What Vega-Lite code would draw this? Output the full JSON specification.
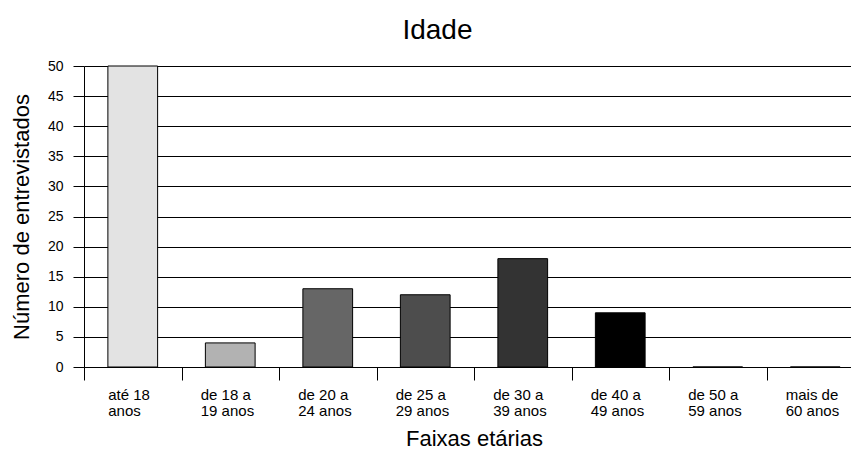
{
  "$schema": "https://vega.github.io/schema/vega-lite/v6.json",
  "width": 780,
  "height": 301,
  "padding": {"left": 10, "top": 17, "right": 0, "bottom": 5},
  "background": "white",
  "title": {"text": "Idade", "fontSize": 28, "font": "Liberation Sans", "fontWeight": "normal", "color": "black", "frame": "bounds", "anchor": "middle", "offset": 14},
  "data": {"values": [
    {"faixa": "até 18\nanos", "n": 50, "cor": "c1"},
    {"faixa": "de 18 a\n19 anos", "n": 4, "cor": "c2"},
    {"faixa": "de 20 a\n24 anos", "n": 13, "cor": "c3"},
    {"faixa": "de 25 a\n29 anos", "n": 12, "cor": "c4"},
    {"faixa": "de 30 a\n39 anos", "n": 18, "cor": "c5"},
    {"faixa": "de 40 a\n49 anos", "n": 9, "cor": "c6"},
    {"faixa": "de 50 a\n59 anos", "n": 0, "cor": "c7"},
    {"faixa": "mais de\n60 anos", "n": 0, "cor": "c8"}
  ]},
  "mark": {"type": "bar", "stroke": "black", "strokeWidth": 1, "width": {"band": 0.51}},
  "encoding": {
    "x": {
      "field": "faixa", "type": "nominal", "sort": null,
      "scale": {"paddingInner": 0, "paddingOuter": 0},
      "axis": {
        "title": "Faixas etárias", "labelAngle": 0, "tickBand": "extent",
        "tickSize": 13, "tickColor": "black", "domainColor": "black",
        "labelExpr": "split(datum.label, '\\n')",
        "labelAlign": "left", "labelBaseline": "top", "labelPadding": 7,
        "labelLineHeight": 16.5, "labelFontSize": 15, "labelFont": "Liberation Sans", "labelColor": "black",
        "labelOffset": {"condition": {"test": "datum.index === 0", "value": -25}, "value": -30},
        "titleFontSize": 22, "titleFont": "Liberation Sans", "titleFontWeight": "normal", "titleColor": "black", "titlePadding": 10,
        "grid": false
      }
    },
    "y": {
      "field": "n", "type": "quantitative",
      "scale": {"domain": [0, 50], "nice": false},
      "axis": {
        "title": "Número de entrevistados", "values": [0,5,10,15,20,25,30,35,40,45,50],
        "tickSize": 11, "tickColor": "black", "domainColor": "black",
        "gridColor": "black", "gridOpacity": 1, "grid": true,
        "labelFontSize": 14, "labelFont": "Liberation Sans", "labelColor": "black", "labelPadding": 10,
        "titleFontSize": 22, "titleFont": "Liberation Sans", "titleFontWeight": "normal", "titleColor": "black", "titlePadding": 14
      }
    },
    "color": {
      "field": "cor", "type": "nominal", "legend": null,
      "scale": {"domain": ["c1","c2","c3","c4","c5","c6","c7","c8"],
                "range": ["#e3e3e3","#b2b2b2","#666666","#4d4d4d","#333333","#000000","#808080","#808080"]}
    }
  },
  "config": {"view": {"stroke": null}}
}
